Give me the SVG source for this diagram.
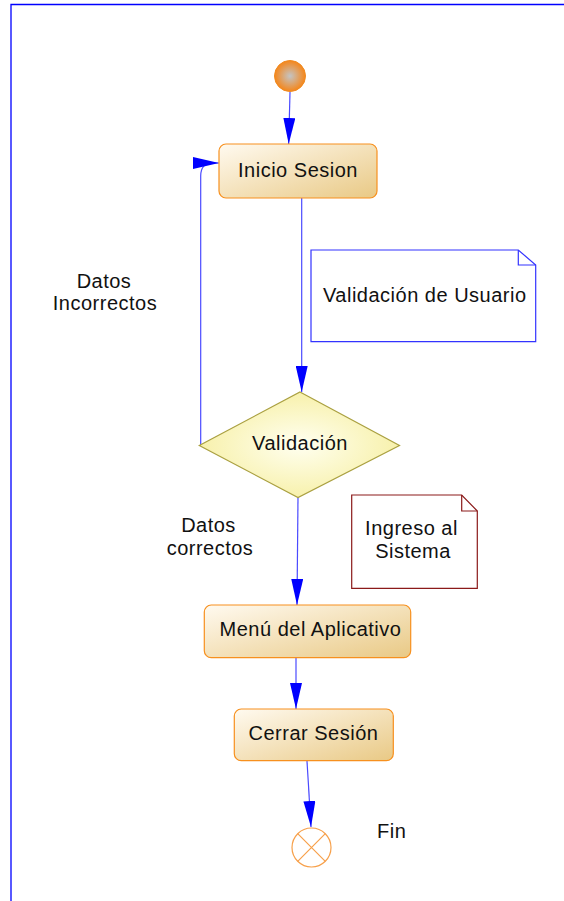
<svg xmlns="http://www.w3.org/2000/svg" width="564" height="901" viewBox="0 0 564 901">
  <style>
    .lbl { font-family: "Liberation Sans", Arial, sans-serif; font-size: 20px; fill: #111; letter-spacing: 0.5px; }
    .mid { text-anchor: middle; }
    .act { fill: url(#actGrad); stroke: #f7901e; stroke-width: 1.2; }
    .conn { fill: none; stroke: #4a4aff; stroke-width: 1.2; marker-end: url(#arrow); }
  </style>
  <defs>
    <linearGradient id="actGrad" x1="0" y1="0" x2="1" y2="1">
      <stop offset="0" stop-color="#fffaf0"/>
      <stop offset="1" stop-color="#e9c985"/>
    </linearGradient>
    <radialGradient id="decGrad" cx="0.5" cy="0.5" r="0.6">
      <stop offset="0" stop-color="#fffff0"/>
      <stop offset="1" stop-color="#f6ee9e"/>
    </radialGradient>
    <radialGradient id="startGrad" cx="0.5" cy="0.5" r="0.5">
      <stop offset="0" stop-color="#c4c4c4"/>
      <stop offset="1" stop-color="#f5861a"/>
    </radialGradient>
    <marker id="arrow" markerUnits="userSpaceOnUse" viewBox="0 0 26 12" refX="26" refY="6" markerWidth="26" markerHeight="12" orient="auto">
      <path d="M0,0 L26,6 L0,12 z" fill="#0000ff"/>
    </marker>
  </defs>

  <rect width="564" height="901" fill="#ffffff"/>
  <path d="M11,901 V4.5 H564" fill="none" stroke="#0000ff" stroke-width="1.3"/>

  <g id="connectors">
    <path class="conn" d="M290,92 L288.7,144"/>
    <path class="conn" d="M301.7,198 L301.7,392"/>
    <path class="conn" d="M200.7,445 V176 Q200.7,163 213,163 L219,163"/>
    <path class="conn" d="M298,497 L297,605"/>
    <path class="conn" d="M296,658 L296,709"/>
    <path class="conn" d="M307,761 L311,827"/>
  </g>

  <g id="start">
    <circle cx="290" cy="76" r="15.5" fill="url(#startGrad)" stroke="#f08a20" stroke-width="1"/>
  </g>

  <g id="inicio-sesion">
    <rect class="act" x="219" y="144" width="158" height="54" rx="7"/>
    <text class="lbl mid" x="298" y="177">Inicio Sesion</text>
  </g>

  <g id="note-validacion-usuario">
    <path d="M311,250 H518.3 L535.7,265 V341.7 H311 Z" fill="#ffffff" stroke="#3333ff" stroke-width="1.2"/>
    <path d="M518.3,250 V265 H535.7" fill="none" stroke="#3333ff" stroke-width="1.2"/>
    <text class="lbl" x="323" y="302">Validación de Usuario</text>
  </g>

  <g id="validacion">
    <path d="M300,392 L399.5,445.5 L298,497.5 L199.3,445.5 Z" fill="url(#decGrad)" stroke="#aaa040" stroke-width="1.2"/>
    <text class="lbl mid" x="300" y="449.5">Validación</text>
  </g>

  <g id="label-datos-incorrectos">
    <text class="lbl mid" x="104" y="288">Datos</text>
    <text class="lbl mid" x="105" y="310">Incorrectos</text>
  </g>

  <g id="label-datos-correctos">
    <text class="lbl mid" x="208.5" y="532">Datos</text>
    <text class="lbl mid" x="210" y="555">correctos</text>
  </g>

  <g id="note-ingreso">
    <path d="M351.7,495 H461.7 L477.3,511 V588.3 H351.7 Z" fill="#ffffff" stroke="#8b1a1a" stroke-width="1.2"/>
    <path d="M461.7,495 V511 H477.3" fill="none" stroke="#8b1a1a" stroke-width="1.2"/>
    <text class="lbl mid" x="411.5" y="535">Ingreso al</text>
    <text class="lbl mid" x="413" y="558">Sistema</text>
  </g>

  <g id="menu-aplicativo">
    <rect class="act" x="204.3" y="605" width="206.4" height="52.7" rx="7"/>
    <text class="lbl mid" x="310.5" y="636">Menú del Aplicativo</text>
  </g>

  <g id="cerrar-sesion">
    <rect class="act" x="234.3" y="709" width="159" height="51.7" rx="7"/>
    <text class="lbl mid" x="313.5" y="740">Cerrar Sesión</text>
  </g>

  <g id="end">
    <circle cx="311.5" cy="847.5" r="19.5" fill="#ffffff" stroke="#f7a04a" stroke-width="1.2"/>
    <path d="M297.7,833.7 L325.3,861.3 M325.3,833.7 L297.7,861.3" stroke="#f7a04a" stroke-width="1.2"/>
  </g>

  <g id="label-fin">
    <text class="lbl" x="377" y="837.5">Fin</text>
  </g>
</svg>
